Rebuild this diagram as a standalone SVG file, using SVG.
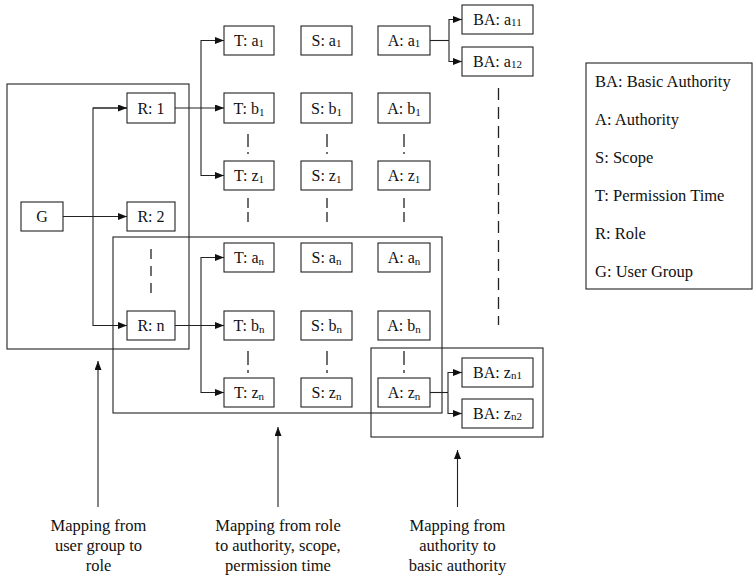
<svg xmlns="http://www.w3.org/2000/svg" width="754" height="577" viewBox="0 0 754 577">
  <defs>
    <marker id="arrow" markerUnits="userSpaceOnUse" markerWidth="10" markerHeight="8" refX="9" refY="3.5" orient="auto">
      <path d="M0,0 L9,3.5 L0,7 z" fill="#111"/>
    </marker>
    <style>
      .box { fill: #fff; stroke: #222; stroke-width: 1.1; }
      .frame { fill: none; stroke: #222; stroke-width: 1.1; }
      .lbl { font-family: "Liberation Serif", "Times New Roman", serif; font-size: 16px; fill: #111; text-anchor: middle; }
      .sub { font-size: 11px; }
      .legend { font-family: "Liberation Serif", "Times New Roman", serif; font-size: 16.5px; fill: #111; }
      .note { font-family: "Liberation Serif", "Times New Roman", serif; font-size: 16.5px; fill: #111; text-anchor: middle; }
      .wire { fill: none; stroke: #222; stroke-width: 1.1; }
      .arr { fill: none; stroke: #222; stroke-width: 1.1; marker-end: url(#arrow); }
      .gap { fill: none; stroke: #222; stroke-width: 1.3; }
    </style>
  </defs>

  <!-- grouping frames -->
  <g id="frames">
    <rect class="frame" x="7" y="84" width="182" height="265"/>
    <rect class="frame" x="113" y="237" width="329" height="176"/>
    <rect class="frame" x="371" y="348" width="172" height="89"/>
  </g>

  <!-- connectors -->
  <g id="connectors">
    <!-- user group to roles -->
    <line class="arr" x1="63" y1="216.5" x2="127" y2="216.5"/>
    <polyline class="arr" points="127,108 93,108 93,325.5 127,325.5" marker-end="url(#arrow)"/>
    <line class="arr" x1="93" y1="108" x2="127" y2="108"/>
    <!-- role 1 to permission times -->
    <line class="arr" x1="175" y1="108" x2="224" y2="108"/>
    <polyline class="arr" points="201,108 201,40.5 224,40.5"/>
    <polyline class="arr" points="201,108 201,175.5 224,175.5"/>
    <!-- role n to permission times -->
    <line class="arr" x1="175" y1="325.5" x2="224" y2="325.5"/>
    <polyline class="arr" points="201,325.5 201,257.5 224,257.5"/>
    <polyline class="arr" points="201,325.5 201,392.5 224,392.5"/>
    <!-- authority to basic authority -->
    <line class="wire" x1="430" y1="40.5" x2="449" y2="40.5"/>
    <polyline class="arr" points="449,40.5 449,19.5 462,19.5"/>
    <polyline class="arr" points="449,40.5 449,61.5 462,61.5"/>
    <line class="wire" x1="430" y1="392.5" x2="448" y2="392.5"/>
    <polyline class="arr" points="448,392.5 448,372.5 462,372.5"/>
    <polyline class="arr" points="448,392.5 448,413.5 462,413.5"/>

    <!-- elided rows -->
    <line class="gap" x1="151" y1="249" x2="151" y2="293" stroke-dasharray="10 7"/>
    <line class="gap" x1="248" y1="134" x2="248" y2="156" stroke-dasharray="13 5 2 30"/>
    <line class="gap" x1="327" y1="134" x2="327" y2="156" stroke-dasharray="13 5 2 30"/>
    <line class="gap" x1="404" y1="134" x2="404" y2="156" stroke-dasharray="13 5 2 30"/>
    <line class="gap" x1="248" y1="198" x2="248" y2="222" stroke-dasharray="10 4"/>
    <line class="gap" x1="327" y1="198" x2="327" y2="222" stroke-dasharray="10 4"/>
    <line class="gap" x1="404" y1="198" x2="404" y2="222" stroke-dasharray="10 4"/>
    <line class="gap" x1="248" y1="351" x2="248" y2="373" stroke-dasharray="14 5 3 30"/>
    <line class="gap" x1="327" y1="351" x2="327" y2="373" stroke-dasharray="14 5 3 30"/>
    <line class="gap" x1="404" y1="351" x2="404" y2="373" stroke-dasharray="14 5 3 30"/>
    <line class="gap" x1="498.5" y1="88" x2="498.5" y2="325" stroke-dasharray="12 7"/>

    <!-- annotation pointers -->
    <line class="arr" x1="98" y1="507" x2="98" y2="361"/>
    <line class="arr" x1="278" y1="507" x2="278" y2="427"/>
    <line class="arr" x1="457.5" y1="507" x2="457.5" y2="450"/>
  </g>

  <!-- user group -->
  <g id="g"><rect class="box" x="21" y="202" width="42" height="29"/><text class="lbl" x="42" y="222">G</text></g>

  <!-- roles -->
  <g id="r1"><rect class="box" x="127" y="93" width="48" height="30"/><text class="lbl" x="151" y="113.5">R: 1</text></g>
  <g id="r2"><rect class="box" x="127" y="202" width="48" height="29"/><text class="lbl" x="151" y="222">R: 2</text></g>
  <g id="rn"><rect class="box" x="127" y="311" width="48" height="29"/><text class="lbl" x="151" y="331">R: n</text></g>

  <!-- permission times -->
  <g id="t-a1"><rect class="box" x="224" y="26" width="50" height="29"/><text class="lbl" x="249" y="46">T: a<tspan class="sub" dy="1">1</tspan></text></g>
  <g id="t-b1"><rect class="box" x="224" y="93" width="50" height="30"/><text class="lbl" x="249" y="113.5">T: b<tspan class="sub" dy="2">1</tspan></text></g>
  <g id="t-z1"><rect class="box" x="224" y="161" width="50" height="29"/><text class="lbl" x="249" y="181">T: z<tspan class="sub" dy="2">1</tspan></text></g>
  <g id="t-an"><rect class="box" x="224" y="243" width="50" height="29"/><text class="lbl" x="249" y="263">T: a<tspan class="sub" dy="2">n</tspan></text></g>
  <g id="t-bn"><rect class="box" x="224" y="311" width="50" height="29"/><text class="lbl" x="249" y="331">T: b<tspan class="sub" dy="2">n</tspan></text></g>
  <g id="t-zn"><rect class="box" x="224" y="378" width="50" height="29"/><text class="lbl" x="249" y="398">T: z<tspan class="sub" dy="2">n</tspan></text></g>

  <!-- scopes -->
  <g id="s-a1"><rect class="box" x="301" y="26" width="51" height="29"/><text class="lbl" x="326.5" y="46">S: a<tspan class="sub" dy="1">1</tspan></text></g>
  <g id="s-b1"><rect class="box" x="301" y="93" width="51" height="30"/><text class="lbl" x="326.5" y="113.5">S: b<tspan class="sub" dy="2">1</tspan></text></g>
  <g id="s-z1"><rect class="box" x="301" y="161" width="51" height="29"/><text class="lbl" x="326.5" y="181">S: z<tspan class="sub" dy="2">1</tspan></text></g>
  <g id="s-an"><rect class="box" x="301" y="243" width="51" height="29"/><text class="lbl" x="326.5" y="263">S: a<tspan class="sub" dy="2">n</tspan></text></g>
  <g id="s-bn"><rect class="box" x="301" y="311" width="51" height="29"/><text class="lbl" x="326.5" y="331">S: b<tspan class="sub" dy="2">n</tspan></text></g>
  <g id="s-zn"><rect class="box" x="301" y="378" width="51" height="29"/><text class="lbl" x="326.5" y="398">S: z<tspan class="sub" dy="2">n</tspan></text></g>

  <!-- authorities -->
  <g id="a-a1"><rect class="box" x="378" y="26" width="52" height="29"/><text class="lbl" x="404" y="46">A: a<tspan class="sub" dy="1">1</tspan></text></g>
  <g id="a-b1"><rect class="box" x="378" y="93" width="52" height="30"/><text class="lbl" x="404" y="113.5">A: b<tspan class="sub" dy="2">1</tspan></text></g>
  <g id="a-z1"><rect class="box" x="378" y="161" width="52" height="29"/><text class="lbl" x="404" y="181">A: z<tspan class="sub" dy="2">1</tspan></text></g>
  <g id="a-an"><rect class="box" x="378" y="243" width="52" height="29"/><text class="lbl" x="404" y="263">A: a<tspan class="sub" dy="2">n</tspan></text></g>
  <g id="a-bn"><rect class="box" x="378" y="311" width="52" height="29"/><text class="lbl" x="404" y="331">A: b<tspan class="sub" dy="2">n</tspan></text></g>
  <g id="a-zn"><rect class="box" x="378" y="378" width="52" height="29"/><text class="lbl" x="404" y="398">A: z<tspan class="sub" dy="2">n</tspan></text></g>

  <!-- basic authorities -->
  <g id="ba-a11"><rect class="box" x="462" y="5" width="71" height="29"/><text class="lbl" x="497.5" y="25">BA: a<tspan class="sub" dy="1">11</tspan></text></g>
  <g id="ba-a12"><rect class="box" x="462" y="47" width="71" height="29"/><text class="lbl" x="497.5" y="67">BA: a<tspan class="sub" dy="1">12</tspan></text></g>
  <g id="ba-zn1"><rect class="box" x="462" y="358" width="71" height="29"/><text class="lbl" x="497.5" y="378">BA: z<tspan class="sub" dy="1">n1</tspan></text></g>
  <g id="ba-zn2"><rect class="box" x="462" y="399" width="71" height="29"/><text class="lbl" x="497.5" y="419">BA: z<tspan class="sub" dy="1">n2</tspan></text></g>

  <!-- legend -->
  <g id="legend">
    <rect class="frame" x="586" y="63" width="166" height="226"/>
    <text class="legend" x="595" y="87">BA: Basic Authority</text>
    <text class="legend" x="595" y="125">A: Authority</text>
    <text class="legend" x="595" y="163">S: Scope</text>
    <text class="legend" x="595" y="201">T: Permission Time</text>
    <text class="legend" x="595" y="239">R: Role</text>
    <text class="legend" x="595" y="277">G: User Group</text>
  </g>

  <!-- annotations -->
  <g id="note-group-role">
    <text class="note" x="98.5" y="531">Mapping from</text>
    <text class="note" x="98.5" y="551">user group to</text>
    <text class="note" x="98.5" y="571">role</text>
  </g>
  <g id="note-role-authority">
    <text class="note" x="278" y="531">Mapping from role</text>
    <text class="note" x="278" y="551">to authority, scope,</text>
    <text class="note" x="278" y="571">permission time</text>
  </g>
  <g id="note-authority-basic">
    <text class="note" x="457.5" y="531">Mapping from</text>
    <text class="note" x="457.5" y="551">authority to</text>
    <text class="note" x="457.5" y="571">basic authority</text>
  </g>
</svg>
